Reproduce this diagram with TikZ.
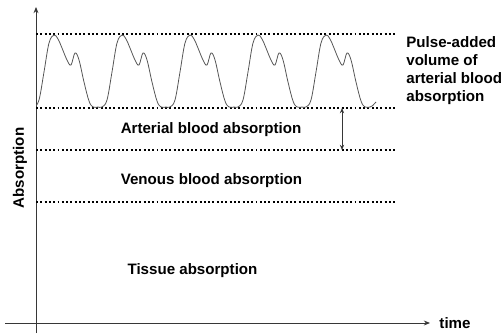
\documentclass[tikz,border=0pt]{standalone}
\usepackage{fontspec}
\setmainfont{Liberation Sans}
\usetikzlibrary{arrows.meta,calc,positioning}
\definecolor{AxisGray}{RGB}{55,55,55}
\definecolor{WaveGray}{RGB}{85,85,85}

\begin{document}
\begin{tikzpicture}[x=0.02cm,y=0.02cm,
  lbl/.style={font=\fontsize{8.6}{10.1}\selectfont\bfseries,inner sep=0pt},
  axis/.style={AxisGray,line width=0.55pt,-{Stealth[length=3.5pt,width=2.8pt]}},
  dotline/.style={line width=1.1pt,dash pattern=on 1.1pt off 1.35pt},
  wave/.style={WaveGray,line width=0.45pt},
  gap/.style={AxisGray,line width=0.45pt,{Stealth[length=3pt,width=2.4pt]}-{Stealth[length=3pt,width=2.4pt]}}]
\useasboundingbox (0,0) rectangle (504,335);
\coordinate (xstart) at (5,12);
\coordinate (xend) at (430,12);
\coordinate (ystart) at (36,2);
\coordinate (yend) at (36,328);
\draw[axis] (xstart) -- (xend);
\draw[axis] (ystart) -- (yend);
\node[lbl,anchor=base] (time) at (455,7) {time};
\node[lbl,rotate=90,anchor=base] (ylab) at (24,167) {Absorption};
\foreach \y/\n in {301/top,227/art,185/ven,133/tis}{
  \coordinate (\n L) at (36,\y);
  \coordinate (\n R) at (397,\y);
  \draw[dotline] (\n L) -- (\n R);
}
\begin{scope}
\clip (36,0) rectangle (400,335);
\foreach \p in {54,122,190,258,326}
  \draw[wave] plot[smooth,tension=0.6] coordinates {({\p-24},228) ({\p-20},228)
    ({\p-15},235) ({\p-10},263) ({\p-5},292) (\p,300) ({\p+4},296) ({\p+8},287)
    ({\p+13},275) ({\p+17},270) ({\p+21},282) ({\p+25},275) ({\p+30},253)
    ({\p+35},234) ({\p+39},228) ({\p+44},228)};
\end{scope}
\draw[wave] (370,228) .. controls (372,228) and (373,230) .. (376,233);
\coordinate (gapTop) at (342,227);
\coordinate (gapBot) at (342,185);
\draw[gap] (gapTop) -- (gapBot);
\node[lbl,anchor=north west,align=left] (pulse) at (406,298.3)
  {Pulse-added\\volume of\\arterial blood\\absorption};
\node[lbl,anchor=base] (arterial) at (211,201.7) {Arterial blood absorption};
\node[lbl,anchor=base] (venous) at (211.5,150.7) {Venous blood absorption};
\node[lbl,anchor=base] (tissue) at (192.5,60) {Tissue absorption};
\end{tikzpicture}
\end{document}
